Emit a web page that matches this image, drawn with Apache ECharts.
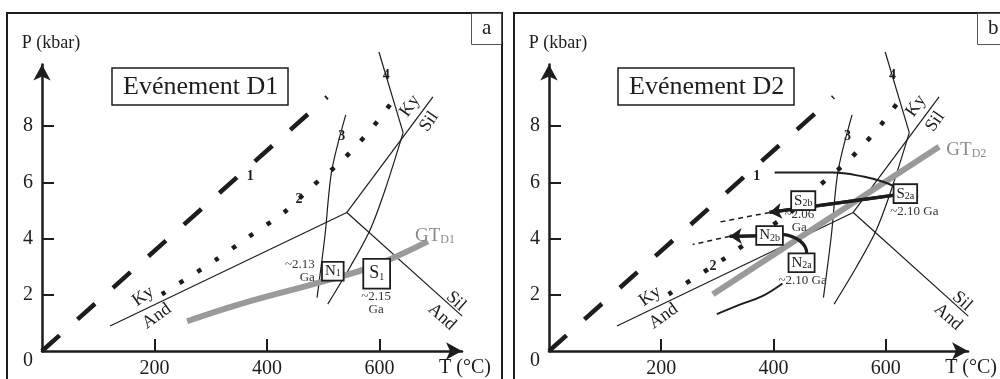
<!DOCTYPE html>
<html><head><meta charset="utf-8">
<script src="https://cdn.jsdelivr.net/npm/echarts@6/dist/echarts.min.js"></script>
<style>html,body{margin:0;padding:0;background:#fff}#c{width:1000px;height:379px}</style>
</head><body><div id="c"></div>
<script>
// ---------- data ----------
const xTicks = [200, 400, 600];
const yTicks = [2, 4, 6, 8];
const yLabels = [0, 2, 4, 6, 8];
const titles = ['Evénement D1', 'Evénement D2'];
const panelLetters = ['a', 'b'];

// geotherms / reference lines (T °C, P kbar)
const line1 = [[0, 0], [507, 9.04]];
const line2 = [[213, 2.02], [308, 3.23], [366, 4.04], [432, 4.96], [478, 5.82], [535, 6.81], [587, 7.94], [631, 9.1]];
const line3 = [[540, 8.4], [515, 6.4], [503, 4.1], [489, 1.9]];
const line4Upper = [[599, 10.64], [642, 7.77]];
const line4Lower = [[642, 7.77], [610, 5.74], [583, 4.3], [548, 3.0], [508, 1.67]];
const kyAnd = [[121, 0.89], [542, 4.93]];
const kySil = [[542, 4.93], [695, 9.04]];
const silAnd = [[542, 4.93], [747, 1.24]];
const gtD1 = [[258, 1.06], [352, 1.67], [500, 2.48], [588, 3.01], [686, 3.90]];
const gtD2 = [[292, 2.02], [695, 7.27]];

// D2 P-T paths
const sPrograde = [[402, 6.35], [505, 6.35], [562, 6.2], [594, 6.03], [619, 5.82], [635, 5.60]];
const sRetro = [[635, 5.60], [393, 4.93]];
const sDashed = [[393, 4.93], [299, 4.57]];
const nPrograde = [[299, 1.31], [340, 1.65], [380, 1.95], [416, 2.4]];
const nRetro = [[450, 3.14], [459, 3.51], [452, 3.83], [437, 4.04], [414, 4.15], [393, 4.11], [322, 4.08]];
const nDashed = [[322, 4.08], [256, 3.79]];

// annotations [text, T, P]
const numLabelsA = [['1', 370, 6.2], ['2', 457, 5.39], ['3', 533, 7.62], ['4', 612, 9.79]];
const numLabelsB = [['1', 370, 6.2], ['2', 292, 3.01], ['3', 532, 7.62], ['4', 612, 9.79]];
const phaseText = [['Ky', 180, 1.95], ['And', 204, 1.24], ['Ky', 654, 8.72], ['Sil', 688, 8.16], ['Sil', 736, 1.77], ['And', 711, 1.21]];
const boxA = [['N', '1', 517, 2.84], ['S', '1', 595, 2.75]];
const boxB = [['N', '2a', 450, 3.14], ['N', '2b', 393, 4.11], ['S', '2a', 635, 5.60], ['S', '2b', 453, 5.35]];
const ageA = [['~2.13\nGa', 485, 2.85], ['~2.15\nGa', 594, 1.70]];
const ageB = [['~2.10 Ga', 452, 2.52], ['~2.06\nGa', 446, 4.61], ['~2.10 Ga', 651, 4.96]];
const gtLabels = [['GT', 'D1', 663, 4.11], ['GT', 'D2', 708, 7.16]];

// ---------- styles ----------
const FONT = '"Liberation Serif", "Times New Roman", serif';
const C = '#1d1d1d';
const GRAY = '#9a9a9a';
const phaseRot = [35, 35, 55, 55, -42, -42];
const ageAlignA = ['right', 'center'];
const gridLeft = [42, 549];
const XMAX = 420 / 0.5625, YMAX = 287.5 / 28.2;

function L(gi, data, ls, extra) {
  return Object.assign({
    type: 'line', xAxisIndex: gi, yAxisIndex: gi, data: data, symbol: 'none', showSymbol: false,
    clip: false, silent: true, animation: false, z: 3,
    lineStyle: Object.assign({ color: C, width: 1.2 }, ls)
  }, extra || {});
}
function arrow(gi, path, w) {
  const n = path.length;
  return {
    type: 'lines', coordinateSystem: 'cartesian2d', xAxisIndex: gi, yAxisIndex: gi, silent: true, animation: false, z: 6,
    symbol: ['none', 'arrow'], symbolSize: 12,
    lineStyle: { color: C, width: w, opacity: 1 },
    data: [{ coords: [path[n - 2], path[n - 1]] }]
  };
}
function T(gi, items) {
  return {
    type: 'scatter', xAxisIndex: gi, yAxisIndex: gi, symbolSize: 0, silent: true, animation: false, z: 20, clip: false,
    itemStyle: { opacity: 1, color: 'rgba(0,0,0,0)' },
    emphasis: { disabled: true },
    data: items
  };
}
function lab(t, p, label) {
  return { value: [t, p], label: Object.assign({ show: true, position: 'inside', fontFamily: FONT, color: C, opacity: 1 }, label) };
}

const series = [];
[0, 1].forEach(gi => {
  series.push(L(gi, line1, { width: 4.5, type: [23.5, 24], cap: 'butt' }));
  series.push(L(gi, line2, { width: 4.5, type: [4.5, 16.5], cap: 'butt' }, { smooth: 0.3 }));
  series.push(L(gi, line3, {}, { smooth: 0.3 }));
  series.push(L(gi, line4Upper, {}));
  series.push(L(gi, line4Lower, {}, { smooth: 0.3 }));
  series.push(L(gi, kyAnd, {}));
  series.push(L(gi, kySil, {}));
  series.push(L(gi, silAnd, {}));
  const nums = gi === 0 ? numLabelsA : numLabelsB;
  const items = nums.map(d => lab(d[1], d[2], { formatter: d[0], fontSize: 14, fontWeight: 'bold' }));
  phaseText.forEach((d, i) => items.push(lab(d[1], d[2], { formatter: d[0], fontSize: 18, rotate: phaseRot[i] })));
  const g = gtLabels[gi];
  items.push(lab(g[2], g[3], {
    formatter: '{a|' + g[0] + '}{b|' + g[1] + '}', align: 'left',
    rich: { a: { fontFamily: FONT, fontSize: 19, color: '#8a8a8a', lineHeight: 20, verticalAlign: 'bottom' },
            b: { fontFamily: FONT, fontSize: 12, color: '#8a8a8a', lineHeight: 12, verticalAlign: 'bottom' } }
  }));
  const boxes = gi === 0 ? boxA : boxB;
  boxes.forEach((d, i) => {
    const big = gi === 0 && i === 1;
    items.push(lab(d[2], d[3], {
      formatter: '{m|' + d[0] + '}{s|' + d[1] + '}',
      backgroundColor: '#fff', borderColor: C, borderWidth: 1.8,
      padding: big ? [5, 5, 5, 5] : [1, 2, 1, 2],
      rich: { m: { fontFamily: FONT, fontSize: big ? 18 : 15, color: C, lineHeight: big ? 18 : 15, verticalAlign: 'bottom' },
              s: { fontFamily: FONT, fontSize: 10, color: C, lineHeight: 10, verticalAlign: 'bottom' } }
    }));
  });
  const ages = gi === 0 ? ageA : ageB;
  ages.forEach((d, i) => items.push(lab(d[1], d[2], {
    formatter: d[0], fontSize: 13, lineHeight: 13, color: '#333',
    align: gi === 0 ? ageAlignA[i] : 'center'
  })));
  series.push(T(gi, items));
});
series.push(L(0, gtD1, { color: GRAY, width: 6, cap: 'butt' }, { smooth: 0.4, z: 4 }));
series.push(L(1, gtD2, { color: GRAY, width: 6, cap: 'butt' }, { z: 4 }));
series.push(L(1, sPrograde, { width: 2 }, { smooth: 0.4, z: 5 }));
series.push(L(1, sRetro, { width: 3.2 }, { z: 5 }));
series.push(L(1, sDashed, { width: 1.5, type: [5, 4] }, { z: 5 }));
series.push(L(1, nPrograde, { width: 2 }, { smooth: 0.4, z: 5 }));
series.push(L(1, nRetro, { width: 3.2 }, { smooth: 0.4, z: 5 }));
series.push(L(1, nDashed, { width: 1.5, type: [5, 4] }, { z: 5 }));
series.push(arrow(1, sRetro, 3.2));
series.push(arrow(1, nRetro, 3.2));

const axisLineCommon = { show: true, onZero: false, symbol: ['none', 'arrow'], symbolSize: [13, 16], lineStyle: { color: C, width: 2.5 } };
const labelStyle = { fontFamily: FONT, fontSize: 20, color: C };

const option = {
  backgroundColor: '#fff',
  animation: false,
  title: [0, 1].map(i => ({
    text: titles[i], left: [112, 618][i], top: 68, padding: [6, 10, 5, 11],
    borderColor: C, borderWidth: 1.5,
    textStyle: { fontFamily: FONT, fontSize: 26, fontWeight: 'normal', color: C }
  })).concat([0, 1].map(i => ({
    text: panelLetters[i], left: [471, 977][i], top: 13, padding: [5, 10, 6, 11],
    borderColor: '#555', borderWidth: 1,
    textStyle: { fontFamily: FONT, fontSize: 21, fontWeight: 'normal', color: C }
  }))),
  graphic: [
    { type: 'rect', shape: { x: 7, y: 13, width: 495, height: 420 }, style: { fill: 'none', stroke: C, lineWidth: 2 }, z: -10 },
    { type: 'rect', shape: { x: 514, y: 13, width: 495, height: 420 }, style: { fill: 'none', stroke: C, lineWidth: 2 }, z: -10 }
  ],
  grid: gridLeft.map(l => ({ left: l, top: 64.5, width: 420, height: 287.5 })),
  xAxis: [0, 1].map(gi => ({
    type: 'value', gridIndex: gi, min: 0, max: XMAX,
    axisLine: axisLineCommon,
    axisTick: { show: true, inside: true, length: 12, customValues: xTicks, lineStyle: { color: C, width: 2 } },
    axisLabel: Object.assign({ customValues: xTicks, margin: 8 }, labelStyle),
    splitLine: { show: false },
    name: 'T (°C)', nameLocation: 'end', nameGap: 3,
    nameTextStyle: { fontFamily: FONT, fontSize: 20, color: C, align: 'center', verticalAlign: 'top', padding: [7, 0, 0, 0] }
  })),
  yAxis: [0, 1].map(gi => ({
    type: 'value', gridIndex: gi, min: 0, max: YMAX,
    axisLine: axisLineCommon,
    axisTick: { show: true, inside: true, length: 12, customValues: yTicks, lineStyle: { color: C, width: 2 } },
    axisLabel: Object.assign({
      customValues: yLabels, margin: 9,
      formatter: v => v === 0 ? '{z|0}' : String(v),
      rich: { z: { fontFamily: FONT, fontSize: 20, color: C, padding: [20, 0, 0, 0] } }
    }, labelStyle),
    splitLine: { show: false },
    name: 'P (kbar)', nameLocation: 'end', nameGap: 12,
    nameTextStyle: { fontFamily: FONT, fontSize: 18, color: C, align: 'center', padding: [0, 0, 0, 18] }
  })),
  series: series
};
const chart = echarts.init(document.getElementById('c'), null, { renderer: 'canvas' });
chart.setOption(option);
</script></body></html>
